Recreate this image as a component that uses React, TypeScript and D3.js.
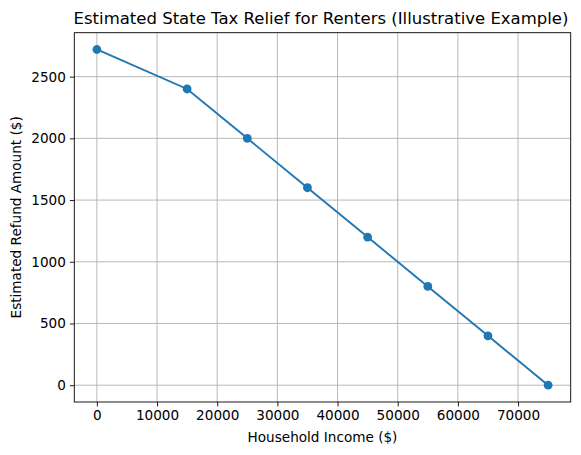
import { useEffect, useRef } from "react";
import * as d3 from "d3";

// ─── Data ────────────────────────────────────────────────────────────────────
const incomes = [0, 15000, 25000, 35000, 45000, 55000, 65000, 75000];
const refunds = [2720, 2400, 2000, 1600, 1200, 800, 400, 0];
const xTicks = [0, 10000, 20000, 30000, 40000, 50000, 60000, 70000];
const yTicks = [0, 500, 1000, 1500, 2000, 2500];

const title = "Estimated State Tax Relief for Renters (Illustrative Example)";
const xLabel = "Household Income ($)";
const yLabel = "Estimated Refund Amount ($)";

const width = 581;
const height = 455;
const margin = { top: 32.7, right: 10.3, bottom: 53, left: 74.3 };
const font = "'DejaVu Sans', sans-serif";
const blue = "#1f77b4";
const tickFont = 13.6;
const titleFont = 16.5;

export default function App() {
  const svgRef = useRef<SVGSVGElement>(null);

  useEffect(() => {
    if (!svgRef.current) return;
    const svg = d3.select(svgRef.current);
    svg.selectAll("*").remove();

    const innerW = width - margin.left - margin.right;
    const innerH = height - margin.top - margin.bottom;

    // matplotlib-style 5% padding
    const xPad = (d3.max(incomes)! - d3.min(incomes)!) * 0.05;
    const yPad = (d3.max(refunds)! - d3.min(refunds)!) * 0.05;

    const x = d3
      .scaleLinear()
      .domain([d3.min(incomes)! - xPad, d3.max(incomes)! + xPad])
      .range([0, innerW]);
    const y = d3
      .scaleLinear()
      .domain([d3.min(refunds)! - yPad, d3.max(refunds)! + yPad])
      .range([innerH, 0]);

    svg.append("rect").attr("width", width).attr("height", height).attr("fill", "white");

    const g = svg
      .append("g")
      .attr("transform", `translate(${margin.left},${margin.top})`);

    // ── Grid ──
    g.append("g")
      .selectAll("line")
      .data(xTicks)
      .join("line")
      .attr("x1", (d) => x(d))
      .attr("x2", (d) => x(d))
      .attr("y1", 0)
      .attr("y2", innerH)
      .attr("stroke", "#b0b0b0")
      .attr("stroke-width", 0.9);
    g.append("g")
      .selectAll("line")
      .data(yTicks)
      .join("line")
      .attr("x1", 0)
      .attr("x2", innerW)
      .attr("y1", (d) => y(d))
      .attr("y2", (d) => y(d))
      .attr("stroke", "#b0b0b0")
      .attr("stroke-width", 0.9);

    // ── Line + markers ──
    const pts = incomes.map((v, i) => ({ x: v, y: refunds[i] }));
    const line = d3
      .line<{ x: number; y: number }>()
      .x((d) => x(d.x))
      .y((d) => y(d.y));
    g.append("path")
      .datum(pts)
      .attr("d", line)
      .attr("fill", "none")
      .attr("stroke", blue)
      .attr("stroke-width", 1.9);
    g.selectAll(".dot")
      .data(pts)
      .join("circle")
      .attr("class", "dot")
      .attr("cx", (d) => x(d.x))
      .attr("cy", (d) => y(d.y))
      .attr("r", 4.4)
      .attr("fill", blue);

    // ── Axes ──
    const xAxis = g
      .append("g")
      .attr("transform", `translate(0,${innerH})`)
      .call(d3.axisBottom(x).tickValues(xTicks).tickSize(4.4).tickPadding(3.5).tickFormat(d3.format("d")));
    const yAxis = g
      .append("g")
      .call(d3.axisLeft(y).tickValues(yTicks).tickSize(4.4).tickPadding(4).tickFormat(d3.format("d")));
    [xAxis, yAxis].forEach((a) => {
      a.select(".domain").remove();
      a.selectAll("line").attr("stroke", "black").attr("stroke-width", 0.9);
      a.selectAll("text")
        .attr("fill", "black")
        .attr("font-family", font)
        .attr("font-size", tickFont);
    });

    // frame
    g.append("rect")
      .attr("width", innerW)
      .attr("height", innerH)
      .attr("fill", "none")
      .attr("stroke", "black")
      .attr("stroke-width", 0.9);

    // ── Labels ──
    svg
      .append("text")
      .attr("x", margin.left + innerW / 2 - 1.5)
      .attr("y", 24)
      .attr("text-anchor", "middle")
      .attr("font-family", font)
      .attr("font-size", titleFont)
      .text(title);
    svg
      .append("text")
      .attr("x", margin.left + innerW / 2)
      .attr("y", 442)
      .attr("text-anchor", "middle")
      .attr("font-family", font)
      .attr("font-size", tickFont)
      .text(xLabel);
    svg
      .append("text")
      .attr("transform", `translate(21,${margin.top + innerH / 2}) rotate(-90)`)
      .attr("text-anchor", "middle")
      .attr("font-family", font)
      .attr("font-size", tickFont)
      .text(yLabel);
  }, []);

  return (
    <div style={{ position: "fixed", left: 0, top: 0 }}>
      <svg ref={svgRef} width={width} height={height} style={{ display: "block" }} />
    </div>
  );
}
